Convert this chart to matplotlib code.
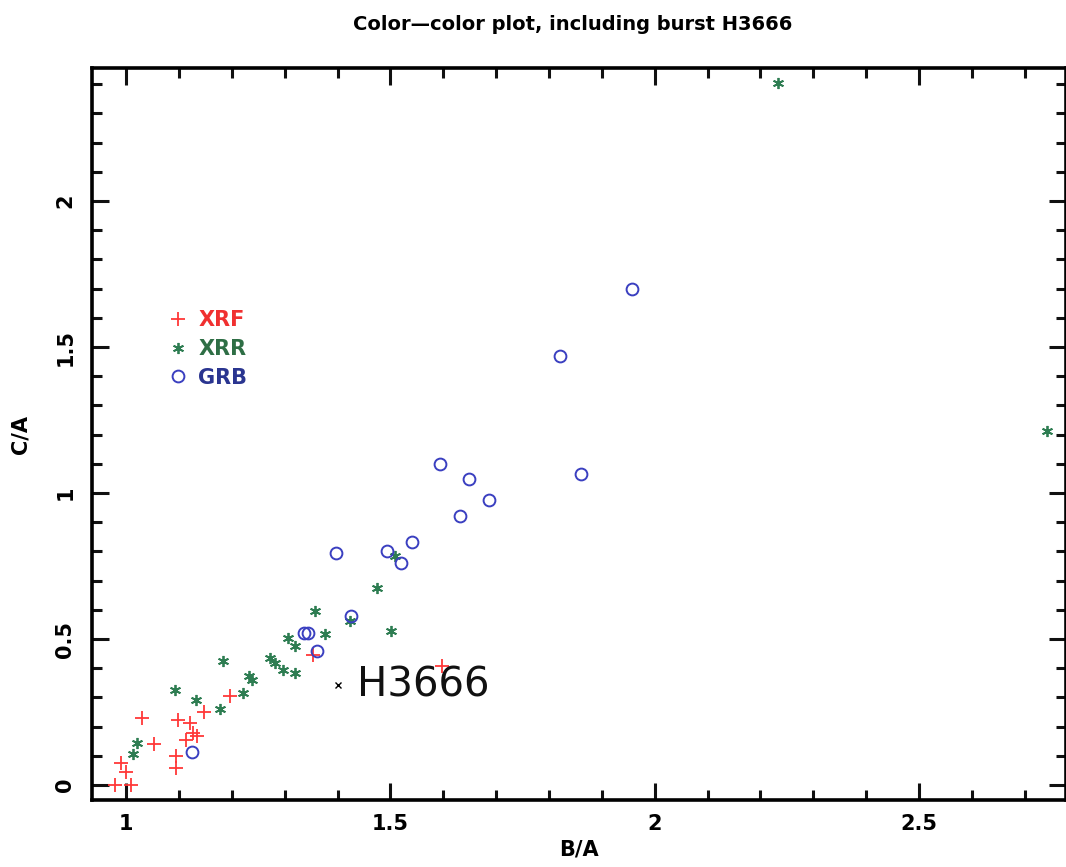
import matplotlib
matplotlib.use("Agg")
import matplotlib.pyplot as plt
from matplotlib.ticker import MultipleLocator

# ---- data ----
xrf_x = [0.98, 1.01, 0.99, 1.00, 1.03, 1.053, 1.095, 1.095, 1.099, 1.121, 1.114, 1.126, 1.134, 1.148, 1.197, 1.354, 1.598]
xrf_y = [0.00, 0.00, 0.074, 0.046, 0.231, 0.140, 0.099, 0.057, 0.224, 0.213, 0.156, 0.177, 0.168, 0.251, 0.305, 0.445, 0.409]

xrr_x = [1.014, 1.021, 1.093, 1.133, 1.183, 1.178, 1.221, 1.232, 1.238, 1.273, 1.281, 1.296, 1.307, 1.320, 1.320,
         1.357, 1.377, 1.423, 1.475, 1.501, 1.509, 2.233, 2.742]
xrr_y = [0.105, 0.143, 0.325, 0.293, 0.426, 0.260, 0.316, 0.374, 0.360, 0.434, 0.419, 0.394, 0.505, 0.477, 0.385,
         0.597, 0.519, 0.562, 0.676, 0.528, 0.785, 2.404, 1.212]

grb_x = [1.124, 1.336, 1.345, 1.362, 1.426, 1.397, 1.494, 1.521, 1.541, 1.593, 1.648, 1.686, 1.631, 1.860, 1.820, 1.958]
grb_y = [0.114, 0.520, 0.522, 0.459, 0.579, 0.796, 0.802, 0.761, 0.831, 1.099, 1.048, 0.976, 0.921, 1.064, 1.469, 1.699]

burst_x = [1.400]
burst_y = [0.342]
burst_name = "H3666"

title = "Color\u2014color plot, including burst H3666"
xlabel = "B/A"
ylabel = "C/A"

# ---- figure ----
fig = plt.figure(figsize=(10.66, 8.67), dpi=100)
ax = fig.add_axes([0.0863, 0.0773, 0.9137, 0.8441])

red = "#ff3838"
green = "#2e7d52"
blue = "#3a3fc0"

ax.plot(xrf_x, xrf_y, linestyle="none", marker="+", markersize=10, markeredgewidth=1.3, color=red, label="XRF")
ax.plot(xrr_x, xrr_y, linestyle="none", marker=(6, 2, 0), markersize=8, markeredgewidth=1.3, color=green, label="XRR")
ax.plot(grb_x, grb_y, linestyle="none", marker="o", markersize=8.5, markeredgewidth=1.4,
        markerfacecolor="none", markeredgecolor=blue, label="GRB")
ax.plot(burst_x, burst_y, linestyle="none", marker="x", markersize=5, markeredgewidth=1.0, color="black")
ax.text(burst_x[0] + 0.036, burst_y[0], burst_name, fontsize=29, fontweight="normal",
        va="center", ha="left", color="#111111")

ax.set_xlim(0.9356, 2.778)
ax.set_ylim(-0.051, 2.455)

ax.xaxis.set_major_locator(MultipleLocator(0.5))
ax.xaxis.set_minor_locator(MultipleLocator(0.1))
ax.yaxis.set_major_locator(MultipleLocator(0.5))
ax.yaxis.set_minor_locator(MultipleLocator(0.1))
ax.xaxis.set_major_formatter(plt.FuncFormatter(lambda v, p: f"{v:g}"))
ax.yaxis.set_major_formatter(plt.FuncFormatter(lambda v, p: f"{v:g}"))

for s in ax.spines.values():
    s.set_linewidth(2.6)
ax.tick_params(which="both", direction="in", top=True, right=True, width=2.2, color="#111111")
ax.tick_params(which="major", length=12)
ax.tick_params(which="minor", length=7)
ax.tick_params(axis="x", which="major", labelsize=15, pad=10)
ax.tick_params(axis="y", which="major", labelsize=15, pad=12)
for lab in ax.get_xticklabels():
    lab.set_fontweight("bold")
for lab in ax.get_yticklabels():
    lab.set_fontweight("bold")
    lab.set_rotation(90)
    lab.set_va("center")

ax.set_xlabel(xlabel, fontsize=15, fontweight="bold", labelpad=4)
ax.set_ylabel(ylabel, fontsize=15, fontweight="bold", labelpad=18)

leg = ax.legend(loc="upper left", bbox_to_anchor=(0.060, 0.695), frameon=False,
                handlelength=0.8, handletextpad=0.6, labelspacing=0.42,
                prop={"weight": "bold", "size": 15},
                labelcolor=["#f03030", "#2e6e45", "#2a3590"])

fig.text(0.537, 0.972, title, ha="center", va="center", fontsize=14, fontweight="bold")

fig.savefig("out.png", dpi=100, facecolor="white")
